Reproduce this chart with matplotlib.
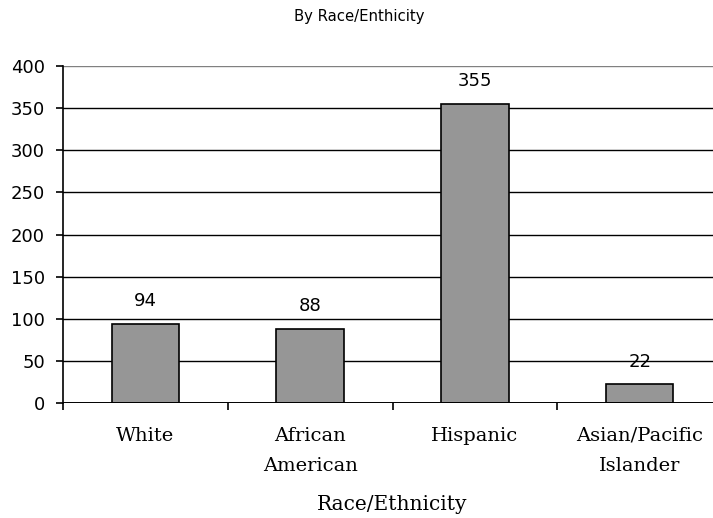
import matplotlib
matplotlib.use("Agg")
import matplotlib.pyplot as plt

categories = ["White", "African\nAmerican", "Hispanic", "Asian/Pacific\nIslander"]
counts = [94, 88, 355, 22]
y_ticks = [0, 50, 100, 150, 200, 250, 300, 350, 400]

W, H = 713, 518
fig = plt.figure(figsize=(W / 100, H / 100), dpi=100)
left, right, top, bottom = 63, 722, 66, 403
ax = fig.add_axes([left / W, 1 - bottom / H, (right - left) / W, (bottom - top) / H])

x = list(range(len(categories)))
ax.bar(x, counts, width=0.41, color="#969696", edgecolor="black", linewidth=1.2, zorder=3)

ax.set_xlim(-0.5, len(categories) - 0.5)
ax.set_ylim(0, 400)
ax.set_yticks(y_ticks)
ax.set_yticklabels([str(v) for v in y_ticks], fontsize=13, family="DejaVu Sans")

for v in y_ticks[:-1]:
    ax.axhline(v, color="black", linewidth=1.0, zorder=1)
ax.axhline(400, color="#808080", linewidth=1.0, zorder=1)

for spine in ["top", "right", "bottom"]:
    ax.spines[spine].set_visible(False)
ax.spines["left"].set_linewidth(1.2)
ax.axhline(0, color="black", linewidth=1.4, zorder=4)

ax.tick_params(axis="y", direction="out", length=5, width=1.2, pad=8)

# category boundaries carry the tick marks, centres carry the labels
ax.set_xticks([i - 0.5 for i in range(len(categories) + 1)], minor=True)
ax.tick_params(axis="x", which="minor", direction="out", length=5, width=1.2)
ax.set_xticks(x)
ax.set_xticklabels(categories, fontsize=14, family="DejaVu Serif", linespacing=1.85)
ax.tick_params(axis="x", which="major", length=0, pad=17)

for xi, v in zip(x, counts):
    ax.annotate(str(v), (xi, v), xytext=(0, 10), textcoords="offset points",
                ha="center", va="bottom", fontsize=13, family="DejaVu Sans")

ax.set_xlabel("Race/Ethnicity", fontsize=14.5, family="DejaVu Serif", labelpad=15)

fig.text(359 / W, 1 - 17 / H, "By Race/Enthicity", ha="center", va="center",
         fontsize=10.7, family="Liberation Sans Narrow")

fig.savefig("out.png", dpi=100)
